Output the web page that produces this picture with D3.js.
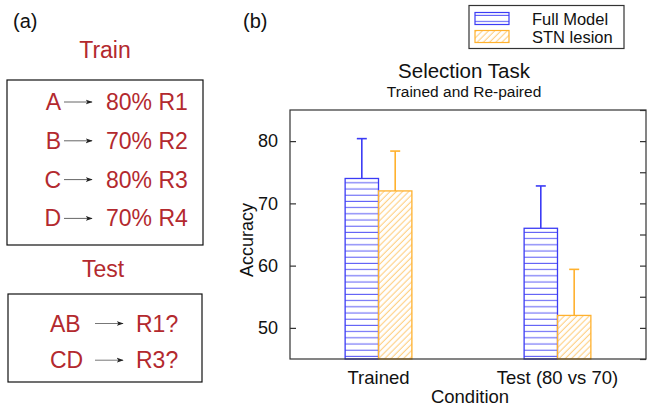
<!DOCTYPE html>
<html lang="en">
<head>
  <meta charset="UTF-8">
  <title>Selection Task</title>
  <style>
    body, html { margin: 0; padding: 0; background: #fff; }
    svg { display: block; font-family: "Liberation Sans", Arial, Helvetica, sans-serif; }
  </style>
</head>
<body>
  <svg id="svg" width="648" height="407"></svg>
  <script src="https://d3js.org/d3.v7.min.js"></script>
  <script>
    // chart data
    const conditions = ["Trained", "Test (80 vs 70)"]
    const seriesNames = ["Full Model", "STN lesion"]
    const fullModel = [74, 66]
    const fullModelErr = [6.4, 6.8]
    const stnLesion = [72, 52]
    const stnLesionErr = [6.4, 7.4]
    const yTicks = [50, 60, 70, 80]
    const yMinorTicks = [45, 50, 55, 60, 65, 70, 75, 80, 85]

    // panel (a) text
    const trainRows = [["A", "80% R1"], ["B", "70% R2"], ["C", "80% R3"], ["D", "70% R4"]]
    const testRows = [["AB", "R1?"], ["CD", "R3?"]]

    const red = '#b3292e'
    const blue = '#3b3bf5'
    const orange = '#ffb12e'

    const svg = d3.select('#svg')
    const defs = svg.append('defs')

    // hatch patterns
    const pBlue = defs.append('pattern')
      .attr('id', 'hatchBlue')
      .attr('patternUnits', 'userSpaceOnUse')
      .attr('width', 10).attr('height', 6.2)
    pBlue.append('line')
      .attr('x1', 0).attr('x2', 10).attr('y1', 3).attr('y2', 3)
      .attr('stroke', '#6565f6').attr('stroke-width', 1.1)

    const pOrange = defs.append('pattern')
      .attr('id', 'hatchOrange')
      .attr('patternUnits', 'userSpaceOnUse')
      .attr('width', 4.4).attr('height', 10)
      .attr('patternTransform', 'rotate(45)')
    pOrange.append('line')
      .attr('x1', 2).attr('x2', 2).attr('y1', 0).attr('y2', 10)
      .attr('stroke', '#ffc465').attr('stroke-width', 0.9)

    defs.append('marker')
      .attr('id', 'arrow')
      .attr('viewBox', '0 0 10 10')
      .attr('refX', 9).attr('refY', 5)
      .attr('markerWidth', 7).attr('markerHeight', 7)
      .attr('markerUnits', 'userSpaceOnUse')
      .attr('orient', 'auto')
      .append('path')
      .attr('d', 'M0,1.5 L10,5 L0,8.5 L2.5,5 Z')
      .attr('fill', '#222')

    // ---------- panel (a) ----------
    const pa = svg.append('g')
    pa.append('text').text('(a)')
      .attr('x', 13).attr('y', 28).attr('font-size', 20).attr('fill', '#111')

    pa.append('text').text('Train')
      .attr('x', 105).attr('y', 58).attr('text-anchor', 'middle')
      .attr('font-size', 23).attr('fill', red)

    pa.append('rect')
      .attr('x', 7).attr('y', 80).attr('width', 196).attr('height', 165)
      .attr('fill', 'none').attr('stroke', '#111').attr('stroke-width', 1.2)

    trainRows.forEach((r, i) => {
      const ty = 110 + i * 38.8
      pa.append('text').text(r[0])
        .attr('x', 61).attr('y', ty).attr('text-anchor', 'end')
        .attr('font-size', 23).attr('fill', red)
      pa.append('line')
        .attr('x1', 64).attr('x2', 92).attr('y1', ty - 8).attr('y2', ty - 8)
        .attr('stroke', '#666').attr('stroke-width', 1)
        .attr('marker-end', 'url(#arrow)')
      pa.append('text').text(r[1])
        .attr('x', 106).attr('y', ty)
        .attr('font-size', 23).attr('fill', red)
    })

    pa.append('text').text('Test')
      .attr('x', 103).attr('y', 277).attr('text-anchor', 'middle')
      .attr('font-size', 23).attr('fill', red)

    pa.append('rect')
      .attr('x', 8).attr('y', 294).attr('width', 194).attr('height', 88)
      .attr('fill', 'none').attr('stroke', '#111').attr('stroke-width', 1.2)

    testRows.forEach((r, i) => {
      const ty = 331.5 + i * 36.7
      pa.append('text').text(r[0])
        .attr('x', 50).attr('y', ty)
        .attr('font-size', 23).attr('fill', red)
      pa.append('line')
        .attr('x1', 95).attr('x2', 123).attr('y1', ty - 8).attr('y2', ty - 8)
        .attr('stroke', '#777').attr('stroke-width', 1)
        .attr('marker-end', 'url(#arrow)')
      pa.append('text').text(r[1])
        .attr('x', 136).attr('y', ty)
        .attr('font-size', 23).attr('fill', red)
    })

    // ---------- panel (b) ----------
    const plotL = 290, plotR = 646, plotT = 110, plotB = 359

    const x0 = d3.scaleBand()
      .domain(conditions)
      .range([plotL, plotR])
      .paddingInner(0.627)
      .paddingOuter(0.308)

    const x1 = d3.scaleBand()
      .domain(seriesNames)
      .range([0, x0.bandwidth()])

    const y = d3.scaleLinear()
      .domain([45, 85])
      .range([plotB, plotT])

    const series = [
      { name: seriesNames[0], values: fullModel, err: fullModelErr, color: blue, fill: 'url(#hatchBlue)' },
      { name: seriesNames[1], values: stnLesion, err: stnLesionErr, color: orange, fill: 'url(#hatchOrange)' }
    ]

    svg.append('text').text('(b)')
      .attr('x', 243).attr('y', 28).attr('font-size', 20).attr('fill', '#111')

    svg.append('text').text('Selection Task')
      .attr('x', 464).attr('y', 78).attr('text-anchor', 'middle')
      .attr('font-size', 20.5).attr('fill', '#111')
    svg.append('text').text('Trained and Re-paired')
      .attr('x', 464).attr('y', 96.5).attr('text-anchor', 'middle')
      .attr('font-size', 15.5).attr('fill', '#111')

    // bars and error bars
    series.forEach(s => {
      const g = svg.append('g')
      conditions.forEach((c, i) => {
        const bx = x0(c) + x1(s.name)
        const bw = x1.bandwidth()
        const cx = bx + bw / 2
        // error bar (upper only)
        g.append('line')
          .attr('x1', cx).attr('x2', cx)
          .attr('y1', y(s.values[i])).attr('y2', y(s.values[i] + s.err[i]))
          .attr('stroke', s.color).attr('stroke-width', 1.6)
        g.append('line')
          .attr('x1', cx - 5).attr('x2', cx + 5)
          .attr('y1', y(s.values[i] + s.err[i])).attr('y2', y(s.values[i] + s.err[i]))
          .attr('stroke', s.color).attr('stroke-width', 1.6)
        g.append('rect')
          .attr('x', bx).attr('y', y(s.values[i]))
          .attr('width', bw).attr('height', y(45) - y(s.values[i]))
          .attr('fill', s.fill)
          .attr('stroke', s.color).attr('stroke-width', 1.3)
      })
    })

    // frame
    svg.append('rect')
      .attr('x', plotL).attr('y', plotT)
      .attr('width', plotR - plotL).attr('height', plotB - plotT)
      .attr('fill', 'none').attr('stroke', '#333').attr('stroke-width', 1.2)

    // left axis ticks (inward)
    const yAxisL = d3.axisLeft(y).tickValues(yTicks).tickSize(-6).tickPadding(12)
    const gl = svg.append('g').attr('transform', `translate(${plotL},0)`).call(yAxisL)
    gl.select('.domain').remove()
    gl.selectAll('line').attr('stroke', '#333').attr('stroke-width', 1.2)
    gl.selectAll('text').attr('font-size', 18).attr('fill', '#111')
      .attr('font-family', '"Liberation Sans", Arial, sans-serif')

    // right axis ticks (inward, incl. minor)
    const yAxisR = d3.axisRight(y).tickValues(yMinorTicks).tickSize(-6).tickFormat('')
    const gr = svg.append('g').attr('transform', `translate(${plotR},0)`).call(yAxisR)
    gr.select('.domain').remove()
    gr.selectAll('line').attr('stroke', '#333').attr('stroke-width', 1.2)

    // x labels
    const xAxis = d3.axisBottom(x0).tickSize(0).tickPadding(12)
    const gx = svg.append('g').attr('transform', `translate(0,${plotB})`).call(xAxis)
    gx.select('.domain').remove()
    gx.selectAll('text').attr('font-size', 18.5).attr('fill', '#111')
      .attr('font-family', '"Liberation Sans", Arial, sans-serif')

    svg.append('text').text('Condition')
      .attr('x', 470).attr('y', 403).attr('text-anchor', 'middle')
      .attr('font-size', 18.5).attr('fill', '#111')

    svg.append('text').text('Accuracy')
      .attr('transform', 'translate(253,240) rotate(-90)')
      .attr('text-anchor', 'middle')
      .attr('font-size', 18).attr('fill', '#111')

    // legend
    const lg = svg.append('g')
    lg.append('rect')
      .attr('x', 469).attr('y', 5.5).attr('width', 155).attr('height', 43)
      .attr('fill', '#fff').attr('stroke', '#333').attr('stroke-width', 1.2)
    series.forEach((s, i) => {
      const ly = 12.5 + i * 18
      lg.append('rect')
        .attr('x', 475).attr('y', ly).attr('width', 34).attr('height', 12)
        .attr('fill', s.fill).attr('stroke', s.color).attr('stroke-width', 1.2)
      lg.append('text').text(s.name)
        .attr('x', 532).attr('y', ly + 12)
        .attr('font-size', 16.5).attr('fill', '#111')
    })
  </script>
</body>
</html>
